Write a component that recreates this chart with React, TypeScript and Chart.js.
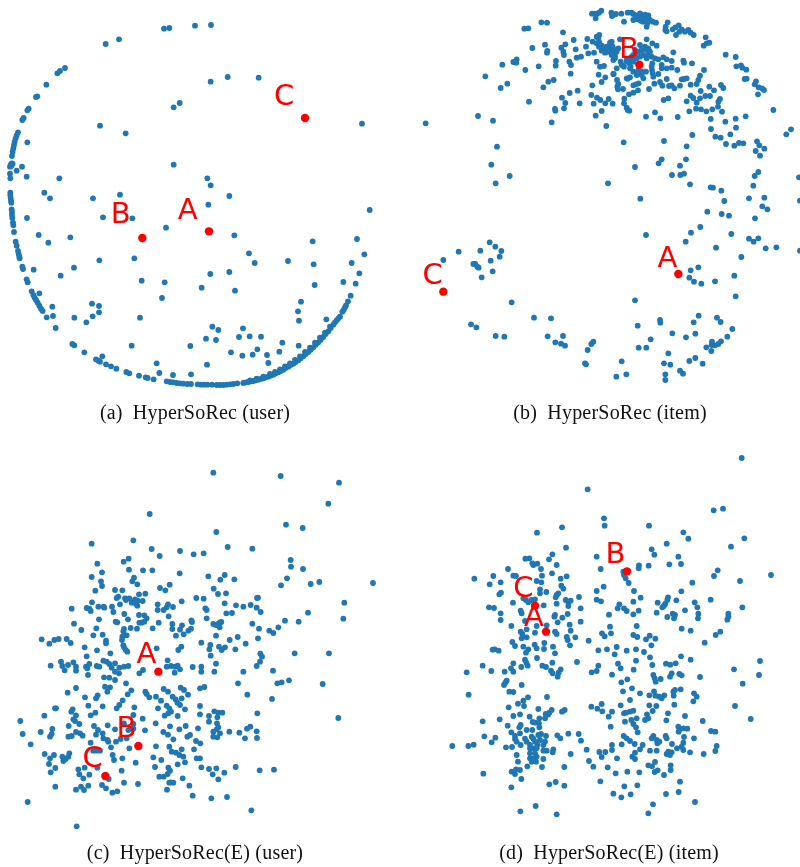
import React, { useEffect, useRef } from "react";
import { Chart, registerables } from "chart.js";

Chart.register(...registerables);

type Pair = [number, number];

const userHyperbolic: Pair[] = [
[492,86],[508,84],[585,77],[633,75],[357,118],[317,132],[195,204],[180,213],[172,220],[139,254],[108,291],[112,289],[86,326],[82,331],[71,354],[67,360],[54,397],[50,406],[47,415],[44,425],[42,435],[40,445],[38,455],[36,468],[35,490],[32,495],[38,491],[30,500],[34,498],[66,500],[82,427],[50,512],[30,521],[31,535],[80,530],[178,535],[133,578],[150,595],[31,578],[31,586],[32,594],[33,602],[34,608],[35,628],[36,636],[36,645],[37,654],[39,668],[40,676],[81,654],[42,696],[47,725],[50,737],[54,753],[56,762],[58,770],[59,775],[67,800],[69,807],[101,809],[80,838],[83,847],[95,874],[118,880],[100,885],[104,893],[108,900],[113,908],[118,917],[123,926],[128,933],[157,920],[140,952],[159,948],[167,984],[223,953],[217,1032],[223,1036],[253,1057],[288,1078],[295,1082],[300,1085],[307,1069],[318,1093],[333,1099],[349,1106],[379,1116],[388,1120],[417,1127],[437,1132],[443,1134],[461,1138],[470,1090],[478,1119],[500,1144],[510,1146],[520,1147],[530,1149],[540,1150],[550,1151],[562,1152],[573,1152],[519,1125],[573,1123],[593,1153],[603,1154],[612,1154],[622,1154],[636,1154],[650,1155],[660,1155],[670,1155],[680,1154],[690,1153],[700,1152],[712,1150],[621,1094],
[730,1149],[745,1146],[760,1143],[775,1139],[790,1135],[805,1130],[820,1124],[835,1117],[850,1109],[865,1100],[880,1091],[895,1081],[910,1069],[925,1056],[940,1042],[955,1027],[970,1011],[985,994],[1000,974],[1010,961],[1020,950],
[750,1141],[770,1136],[790,1130],[810,1122],[825,1116],[840,1108],[855,1099],[870,1090],[885,1080],[900,1069],[915,1056],[930,1043],[945,1028],[960,1013],[975,998],[990,980],
[737,1147],[752,1144],[767,1141],[782,1137],[797,1132],[812,1127],[827,1120],[842,1113],[857,1104],[872,1095],[887,1086],[902,1075],[917,1062],[932,1049],[947,1034],[962,1019],[977,1002],[992,984],[1005,967],[1015,955],
[1027,935],[1031,930],[1035,922],[1038,916],[1044,904],[1052,887],[1067,851],[1078,820],[1055,789],[1093,763],[1071,717],[1109,630],[1086,371],[776,233],[683,231],[632,245],[539,309],[521,322],[300,377],[377,400],[521,494],[622,535],[632,556],[688,588],[625,614],[360,584],[279,595],[309,652],[397,655],[498,683],[116,705],[145,728],[211,712],[703,706],[938,724],[747,760],[764,789],[864,783],[941,793],[298,781],[222,803],[182,827],[403,775],[631,822],[688,816],[425,842],[494,847],[605,863],[705,872],[944,855],[1030,846],[486,894],[903,905],[894,934],[897,962],[979,958],[420,953],[276,911],[297,918],[297,937],[278,949],[259,967],[637,980],[655,990],[729,985],[717,1011],[749,1009],[783,1010],[618,1016],[648,1020],[847,1028],[896,1037],[571,1038],[395,1037],[693,1057],[727,1067],[758,1064],[772,1048],[801,1065],[838,1055],[805,1089],
];

const itemHyperbolic: Pair[] = [
[576,41],[584,41],[590,42],[597,38],[604,32],[587,55],[634,38],[640,45],[648,42],[636,48],[664,41],[672,65],[683,38],[695,38],[700,42],[708,46],[715,48],[725,46],[735,44],[745,46],[700,60],[712,58],[722,62],[730,58],[740,55],[750,60],[742,70],[740,80],[758,65],[768,68],[803,67],[797,80],[796,90],[800,94],[818,88],[826,82],[836,76],[845,88],[838,95],[828,105],[855,95],[865,90],[872,98],[881,105],[917,112],[928,128],[920,130],[911,137],[977,164],[1007,171],[1009,199],[1023,196],[1027,203],[1039,209],[1040,236],[1034,237],[1068,244],[1064,253],[1076,262],[1086,265],[1092,270],[1074,283],[1120,330],[1037,349],[1007,356],[976,365],[932,357],[1008,383],[933,387],[991,403],[946,410],[962,413],[1159,403],[1173,388],[877,405],[978,432],[1003,437],[1017,429],[1030,430],[1071,424],[1078,436],[1093,446],[1067,453],[1080,467],[792,423],[860,439],[671,427],[785,478],[776,490],[858,478],[840,497],[705,501],[1075,516],[1064,528],[1060,557],[1197,532],[1200,602],[816,525],[841,525],[852,521],[870,553],[932,562],[939,563],[964,572],[973,603],[1047,595],[1093,593],[1087,619],[1102,628],[1065,655],[922,635],[965,642],[987,647],[721,596],[624,550],[901,681],[873,698],[857,725],[738,705],[994,702],[1047,716],[1061,725],[1075,715],[948,743],[1097,745],[1129,742],[1200,752],[1024,771],[895,802],[872,811],[868,833],[882,845],[904,851],[945,844],[1003,827],[1007,889],[705,901],[896,947],[881,967],[780,960],[781,968],[713,977],[951,953],[962,966],[997,987],[982,1010],[886,1001],[817,1000],[858,1012],[752,1018],[716,1043],[739,1043],[963,1024],[955,1032],[945,1036],[936,1025],[935,1035],[919,1042],[934,1053],[805,1060],[886,1074],[868,1083],[908,1091],[792,1090],[811,1094],[840,1112],[849,1121],[796,1123],[796,1140],[665,1084],[679,1123],[649,1130],[555,1090],[558,1093],[563,1050],[574,1032],[580,1025],[489,1008],[443,1009],[466,1027],[483,1031],[495,1037],[453,955],[402,953],[335,907],[213,973],[229,982],[287,1008],[313,1010],[130,780],[176,755],[241,752],[269,727],[286,740],[304,753],[299,770],[272,782],[278,814],[245,832],[220,792],[226,792],[232,800],[236,803],[234,348],[279,362],[291,440],[274,494],[329,528],[287,550],[77,370],
[424,67],[441,68],[373,86],[385,85],[489,97],[397,144],[435,134],[442,153],[441,158],[496,133],[521,120],[484,143],[490,155],[492,165],[527,148],[558,140],[562,117],[468,183],[467,197],[508,185],[513,195],[530,173],[543,170],[350,178],[340,186],[349,188],[307,194],[376,210],[416,199],[512,221],[256,229],[322,251],[302,264],[445,245],[461,240],[430,262],[509,279],[533,272],[486,293],[496,309],[387,305],[465,327],[466,332],[492,325],[539,310],[455,367],[587,347],[605,333],[574,285],[581,311],[591,293],[601,300],[616,310],[626,297],[638,311],[619,378],[577,256],[605,246],[596,224],[616,232],[641,222],[651,240],[655,252],[652,260],[654,268],[669,267],[683,236],[690,232],[673,296],[672,310],[680,323],[683,330],[688,332],[687,283],[700,278],[714,271],[700,256],[708,253],[716,250],[738,350],[765,337],[781,355],[833,351],[747,267],[763,251],[780,246],[787,257],[807,258],[815,256],[823,265],[840,257],[845,238],[852,237],[860,235],[872,254],[890,252],[895,240],[900,227],[912,210],[876,190],[832,210],[800,237],[791,300],[805,295],[860,304],[872,287],[880,294],[890,308],[900,295],[916,288],[930,288],[902,273],[928,260],[942,271],[963,255],[970,264],[960,297],[955,305],[954,320],[966,335],[937,328],[919,334],[903,328],[888,326],[868,334],
[590,110],[598,105],[578,125],[590,130],[597,140],[605,152],[615,158],[630,128],[638,140],[625,142],[620,155],[635,155],[650,150],[645,168],[640,180],[660,118],[565,160],[582,158],[590,185],[600,200],[612,198],[662,185],[680,180],[695,170],[705,165],[720,135],[740,118],[757,130],[770,137],[740,150],[750,155],[755,170],[765,175],[775,178],[790,172],[800,178],[820,157],[815,183],[850,182],[852,188],[785,195],[757,190],[755,200],[756,210],[758,220],[760,230],[745,165],[785,205],[800,205],[815,203],[775,222],[738,215],[725,225],[710,225],[700,215],[690,205],[672,200],[650,205],[640,222],[680,235],[730,235],[692,200],[688,190],
[595,115],[598,127],[605,137],[615,147],[625,155],[635,165],[645,175],[620,140],[630,135],[640,150],[650,155],[655,145],[635,125],[665,195],[680,185],[690,175],[700,165],[715,50],[722,52],[730,48],[738,52],[745,58],[728,65],[735,60],[720,40],[705,150],[715,155],[725,150],[735,140],[745,145],[730,165],[720,170],[710,175],[740,175],[700,185],[715,210],[725,215],
];

const userEuclidean: Pair[] = [
[640,98],[842,108],[1017,128],[985,191],[449,222],[858,254],[908,264],[649,276],[275,311],[400,301],[455,327],[683,321],[757,326],[540,333],[581,343],[611,340],[479,348],[386,356],[371,365],[292,371],[872,360],[873,380],[909,387],[387,389],[429,391],[457,391],[306,397],[539,400],[625,409],[674,405],[661,419],[703,418],[861,415],[843,436],[932,432],[958,426],[1119,429],[275,411],[402,413],[397,424],[303,424],[412,433],[306,438],[509,434],[641,446],[480,444],[496,451],[286,452],[345,450],[367,451],[654,462],[678,460],[355,470],[350,474],[375,475],[388,475],[378,480],[417,463],[436,461],[405,478],[413,482],[428,483],[395,488],[408,492],[412,497],[276,487],[295,500],[311,500],[313,503],[336,500],[360,493],[589,474],[611,476],[545,484],[774,473],[771,474],[674,490],[1033,488],[473,493],[504,493],[500,502],[491,510],[473,510],[519,501],[708,496],[730,500],[752,495],[770,503],[782,516],[215,506],[260,504],[268,506],[272,513],[340,516],[373,522],[417,525],[433,526],[440,535],[506,529],[616,505],[620,510],[679,520],[696,519],[924,518],[620,535],[1030,536],[297,538],[347,545],[352,547],[384,538],[418,548],[425,548],[433,545],[476,548],[574,541],[576,546],[517,552],[546,556],[640,552],[648,555],[660,547],[664,546],[654,552],[659,562],[757,551],[855,542],[896,545],[222,551],[244,570],[289,565],[392,564],[411,566],[372,567],[370,574],[458,565],[517,567],[540,569],[573,566],[565,572],[551,583],[777,566],[835,562],[808,572],[820,579],[528,587],[280,586],[308,584],[367,590],[380,586],[648,587],[713,591],[689,600],[774,595],[125,598],[163,600],[176,597],[200,597],[212,609],[148,611],[366,600],[318,602],[318,610],[604,608],[737,611],[254,622],[370,616],[372,622],[631,615],[628,628],[544,620],[535,630],[657,620],[675,622],[665,630],[706,628],[470,625],[291,631],[377,630],[382,635],[331,640],[632,647],[884,640],[987,640],[781,641],[786,650],[260,649],[310,662],[320,665],[780,665],[503,661],[183,665],[220,667],[204,675],[187,678],[152,677],[228,680],[258,680],[268,672],[290,678],[298,680],[328,672],[345,670],[335,683],[358,683],[372,680],[385,678],[648,671],[770,678],[500,680],[513,678],[525,680],[533,677],[540,688],[578,681],[604,680],[604,695],[643,695],[194,691],[228,692],[262,685],[345,695],[357,700],[429,690],[418,700],[524,698],[730,695],[819,692],[264,705],[312,712],[328,713],[345,720],[867,721],[845,727],[832,730],[714,730],[968,732],[378,730],[315,740],[330,742],[228,744],[322,755],[394,751],[436,755],[440,762],[448,772],[491,747],[504,755],[542,743],[552,750],[600,745],[613,741],[203,758],[255,772],[293,766],[288,775],[383,763],[368,781],[564,764],[468,770],[483,782],[518,770],[527,778],[545,775],[532,788],[540,795],[742,764],[816,777],[358,795],[350,805],[308,799],[265,797],[600,798],[403,802],[474,805],[500,797],[508,805],[513,815],[555,808],[505,820],[168,805],[165,805],[218,808],[214,815],[286,818],[272,826],[228,826],[133,827],[600,823],[533,828],[494,827],[643,814],[655,818],[667,818],[627,828],[772,820],[1015,834],[428,836],[652,832],[220,838],[225,843],[238,852],[61,843],[467,850],[627,845],[400,825],[206,858],[282,858],[323,856],[372,850],[400,852],[651,850],[655,862],[510,859],[557,858],[594,865],[751,860],[741,866],[157,867],[294,870],[345,868],[400,866],[435,871],[538,868],[650,868],[122,876],[68,882],[155,882],[150,890],[228,876],[240,880],[248,887],[288,884],[308,880],[310,895],[322,900],[385,870],[490,876],[504,884],[570,885],[562,890],[640,875],[660,880],[688,875],[718,878],[770,874],[205,890],[215,888],[325,905],[348,905],[362,897],[380,895],[520,898],[640,890],[652,892],[735,895],[771,894],[92,913],[272,908],[588,903],[601,910],[333,922],[388,925],[468,919],[508,920],[545,928],[582,928],[280,932],[290,932],[300,932],[515,935],[528,938],[134,942],[162,945],[208,940],[205,950],[187,950],[338,945],[538,945],[550,950],[197,957],[150,955],[190,963],[342,960],[367,955],[460,952],[484,960],[590,955],[600,955],[147,972],[407,968],[533,973],[555,967],[166,984],[235,988],[254,983],[292,983],[365,992],[465,981],[505,983],[604,982],[627,987],[649,985],[707,981],[779,991],[822,989],[152,997],[238,1003],[268,1004],[510,992],[638,1003],[673,998],[250,1015],[326,1017],[478,1010],[491,1010],[503,1002],[548,1015],[655,1018],[372,1028],[414,1032],[513,1027],[508,1028],[520,1028],[166,1040],[243,1040],[265,1037],[306,1035],[318,1045],[228,1049],[252,1050],[501,1049],[568,1037],[337,1058],[352,1054],[578,1067],[634,1075],[681,1071],[83,1086],[754,1111],[230,1159],
];

const itemEuclidean: Pair[] = [
[1025,54],[563,148],[969,206],[941,211],[612,235],[614,257],[747,257],[486,262],[411,278],[850,277],[865,296],[1033,295],[800,311],[993,320],[498,323],[755,328],[763,344],[457,343],[835,350],[590,350],[376,356],[388,355],[447,358],[397,370],[412,371],[400,375],[470,375],[843,372],[808,373],[746,377],[717,376],[716,385],[602,387],[324,387],[423,387],[953,391],[456,400],[942,408],[1113,405],[223,416],[280,408],[340,407],[348,408],[426,407],[500,409],[482,416],[670,395],[672,405],[677,415],[686,429],[1020,423],[877,428],[269,433],[302,427],[410,423],[424,427],[484,437],[490,446],[611,440],[844,454],[702,453],[590,453],[420,448],[439,456],[420,460],[303,458],[298,463],[475,460],[470,465],[467,472],[537,471],[722,473],[804,472],[802,480],[829,481],[932,479],[590,479],[603,484],[700,485],[884,487],[773,488],[796,491],[792,497],[787,502],[370,475],[378,480],[385,487],[395,480],[405,478],[339,488],[431,496],[470,491],[497,480],[505,487],[512,482],[505,498],[267,502],[282,504],[542,505],[658,493],[653,505],[672,505],[680,513],[700,523],[716,512],[892,502],[1027,502],[770,518],[855,511],[362,512],[365,520],[302,520],[465,525],[463,530],[503,522],[487,533],[627,524],[818,521],[825,525],[822,535],[895,521],[894,535],[802,531],[985,521],[985,530],[982,539],[302,540],[375,543],[473,547],[542,545],[334,558],[410,558],[440,556],[509,554],[710,558],[630,560],[845,566],[872,572],[961,575],[947,585],[362,575],[367,582],[380,568],[405,578],[465,575],[470,582],[512,572],[606,580],[614,589],[633,580],[700,585],[712,591],[749,587],[738,598],[766,596],[365,595],[380,592],[500,591],[503,600],[526,592],[566,602],[914,608],[337,606],[345,618],[433,609],[404,614],[410,625],[370,620],[385,628],[378,638],[432,627],[459,620],[510,616],[754,616],[650,621],[278,629],[284,628],[296,632],[595,631],[621,628],[680,632],[708,628],[732,636],[465,640],[644,643],[750,652],[411,654],[843,649],[872,659],[375,659],[379,668],[383,677],[457,668],[531,666],[654,671],[708,662],[798,671],[811,674],[827,670],[757,675],[1080,663],[248,677],[340,670],[333,685],[364,681],[427,677],[438,681],[595,677],[662,685],[701,689],[1002,688],[274,693],[200,697],[314,695],[340,695],[453,692],[458,700],[482,688],[476,698],[473,710],[575,697],[590,693],[636,704],[815,700],[810,710],[838,702],[845,706],[900,711],[760,705],[764,715],[767,725],[782,717],[1077,705],[682,718],[664,727],[320,722],[316,728],[312,735],[365,735],[1028,731],[696,745],[669,754],[328,755],[340,756],[842,748],[825,750],[820,755],[762,754],[720,760],[206,764],[748,766],[766,767],[778,770],[793,766],[785,775],[882,760],[890,770],[821,767],[384,772],[441,771],[370,782],[880,784],[690,780],[354,791],[372,798],[662,796],[748,796],[769,798],[823,794],[1005,798],[326,802],[574,800],[592,806],[605,792],[415,807],[455,810],[494,810],[486,815],[607,814],[636,815],[448,818],[437,822],[444,824],[804,820],[758,813],[700,812],[690,815],[678,818],[672,820],[741,823],[626,830],[340,828],[360,823],[389,830],[435,835],[418,835],[855,828],[1052,837],[299,838],[248,844],[398,846],[406,848],[417,850],[675,845],[694,840],[710,835],[735,840],[745,835],[799,841],[908,843],[323,857],[362,855],[358,862],[418,862],[632,860],[700,852],[708,862],[835,860],[840,867],[850,865],[862,866],[933,873],[946,875],[334,877],[360,880],[380,870],[397,870],[713,877],[836,875],[345,888],[505,881],[536,882],[253,889],[286,893],[345,897],[375,896],[395,890],[400,896],[415,885],[423,882],[438,888],[472,886],[481,895],[671,888],[680,895],[760,888],[797,888],[800,895],[852,891],[882,895],[543,902],[275,907],[350,905],[380,905],[405,905],[420,900],[435,905],[690,903],[755,895],[770,900],[778,905],[157,918],[205,918],[221,914],[318,922],[336,921],[362,915],[390,915],[412,915],[430,915],[665,913],[704,912],[728,915],[772,910],[816,912],[850,908],[950,918],[560,929],[390,925],[400,925],[410,925],[430,932],[440,932],[460,928],[458,937],[598,936],[616,936],[636,930],[636,915],[720,928],[750,932],[770,932],[805,935],[831,925],[845,920],[850,930],[870,937],[946,933],[911,942],[350,945],[390,940],[405,940],[512,942],[605,951],[705,938],[697,950],[800,942],[815,937],[810,945],[390,955],[400,955],[410,950],[430,957],[651,955],[705,957],[354,965],[395,965],[408,965],[567,963],[765,966],[382,979],[426,981],[493,981],[580,980],[623,982],[745,976],[756,979],[812,976],[335,995],[348,988],[360,990],[345,1002],[250,1001],[647,1000],[682,995],[718,997],[773,991],[764,996],[812,990],[792,1005],[364,1017],[601,1024],[840,1025],[467,1026],[448,1033],[493,1037],[334,1042],[712,1036],[673,1039],[640,1061],[664,1072],[692,1063],[798,1062],[836,1056],[885,1086],[407,1098],[361,1114],[759,1093],[745,1120],[470,1123],
];

const highlightNames = ["A", "B", "C"];
const userHyperbolicHighlights: Pair[] = [[627,694],[427,714],[915,354]];
const itemHyperbolicHighlights: Pair[] = [[835,822],[718,194],[130,875]];
const userEuclideanHighlights: Pair[] = [[475,695],[415,918],[316,1008]];
const itemEuclideanHighlights: Pair[] = [[438,575],[681,394],[405,497]];

const userHyperbolicLabels: Pair[] = [[563,634],[362,647],[852,293]];
const itemHyperbolicLabels: Pair[] = [[802,779],[687,151],[98,829]];
const userEuclideanLabels: Pair[] = [[439,647],[379,869],[278,959]];
const itemEuclideanLabels: Pair[] = [[402,534],[646,347],[370,447]];

const captions = [
  "(a)\u2002HyperSoRec (user)",
  "(b)\u2002HyperSoRec (item)",
  "(c)\u2002HyperSoRec(E) (user)",
  "(d)\u2002HyperSoRec(E) (item)",
];

const panels = [
  { points: userHyperbolic, marks: userHyperbolicHighlights, labels: userHyperbolicLabels, left: 0, top: 0, captionX: 195, captionY: 412 },
  { points: itemHyperbolic, marks: itemHyperbolicHighlights, labels: itemHyperbolicLabels, left: 400, top: 0, captionX: 610, captionY: 412 },
  { points: userEuclidean, marks: userEuclideanHighlights, labels: userEuclideanLabels, left: 0, top: 440, captionX: 195, captionY: 852 },
  { points: itemEuclidean, marks: itemEuclideanHighlights, labels: itemEuclideanLabels, left: 400, top: 440, captionX: 609, captionY: 852 },
];

const toPoints = (list: Pair[]) => list.map(([x, y]) => ({ x, y }));

const letterPlugin = {
  id: "letters",
  afterDatasetsDraw(chart: any, _args: any, opts: any) {
    const { ctx, scales } = chart;
    ctx.save();
    ctx.fillStyle = "#ff0000";
    ctx.font = '29px "DejaVu Sans"';
    ctx.textAlign = "center";
    ctx.textBaseline = "middle";
    opts.positions.forEach(([x, y]: Pair, i: number) => {
      ctx.fillText(highlightNames[i], scales.x.getPixelForValue(x), scales.y.getPixelForValue(y));
    });
    ctx.restore();
  },
};

function Panel({ panel }: { panel: (typeof panels)[number] }) {
  const ref = useRef<HTMLCanvasElement>(null);
  useEffect(() => {
    const chart = new Chart(ref.current as HTMLCanvasElement, {
      type: "scatter",
      data: {
        datasets: [
          { data: toPoints(panel.marks), backgroundColor: "#ff0000", borderWidth: 0, pointRadius: 4.2, order: 0 },
          { data: toPoints(panel.points), backgroundColor: "#1f77b4", borderWidth: 0, pointRadius: 2.9, order: 1 },
        ],
      },
      options: {
        animation: false,
        responsive: false,
        layout: { padding: 0, autoPadding: false },
        scales: {
          x: { type: "linear", min: 0, max: 1200, display: false },
          y: { type: "linear", min: 0, max: 1281, reverse: true, display: false },
        },
        plugins: {
          legend: { display: false },
          tooltip: { enabled: false },
          letters: { positions: panel.labels },
        },
      } as any,
      plugins: [letterPlugin],
    });
    return () => chart.destroy();
  }, [panel]);
  return (
    <canvas
      ref={ref}
      width={400}
      height={427}
      style={{ position: "absolute", left: panel.left, top: panel.top, width: 400, height: 427 }}
    />
  );
}

export default function App() {
  return (
    <div style={{ position: "fixed", left: 0, top: 0, width: 800, height: 867, background: "#fff", overflow: "hidden" }}>
      {panels.map((panel) => (
        <Panel key={panel.left + "-" + panel.top} panel={panel} />
      ))}
      {panels.map((panel, i) => (
        <div
          key={captions[i]}
          style={{
            position: "absolute",
            left: panel.captionX - 200,
            top: panel.captionY - 12,
            width: 400,
            height: 24,
            lineHeight: "24px",
            textAlign: "center",
            fontFamily: '"Liberation Serif", serif',
            fontSize: 20,
            letterSpacing: 0.2,
            color: "#111",
            whiteSpace: "pre",
          }}
        >
          {captions[i]}
        </div>
      ))}
    </div>
  );
}
